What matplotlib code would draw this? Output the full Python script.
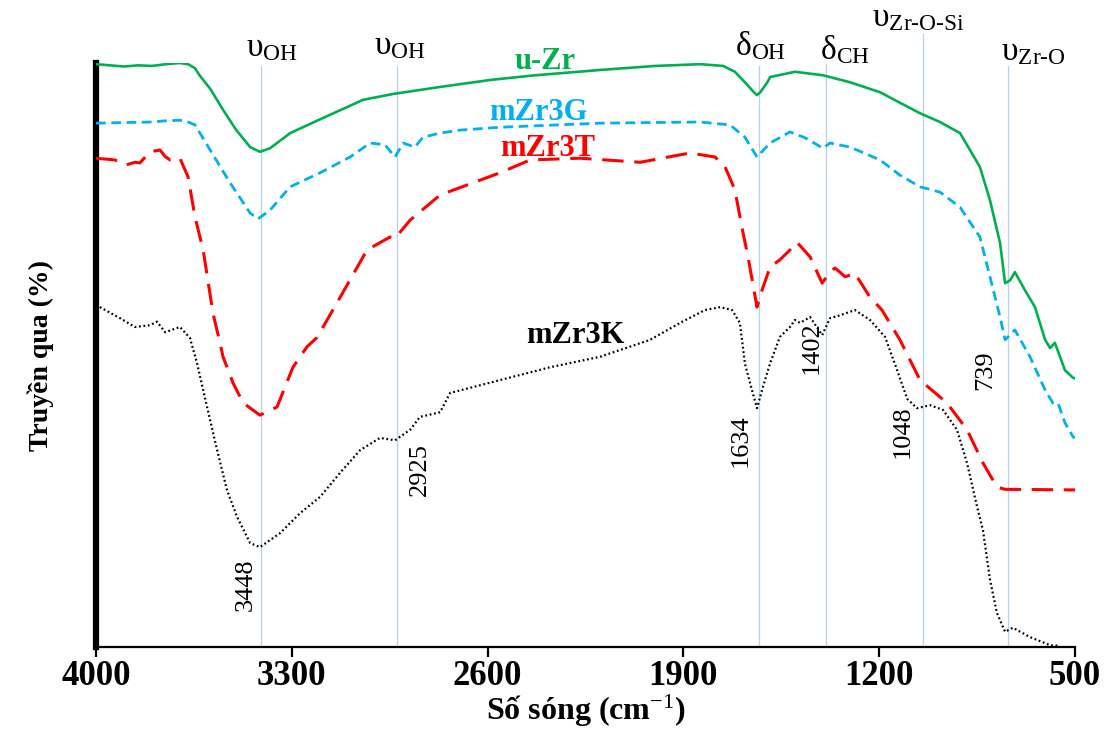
import matplotlib
matplotlib.use("Agg")
import matplotlib.pyplot as plt

plt.rcParams['font.family'] = ['Liberation Serif', 'DejaVu Serif']
plt.rcParams['mathtext.fontset'] = 'custom'
plt.rcParams['mathtext.rm'] = 'Liberation Serif'
plt.rcParams['mathtext.it'] = 'Liberation Serif:italic'
plt.rcParams['mathtext.bf'] = 'Liberation Serif:bold'

# spectra (wavenumber cm-1, transmittance a.u.)
uzr_wn = [4000, 3950, 3900, 3850, 3800, 3750, 3700, 3671, 3646, 3630, 3592, 3546, 3500, 3449, 3414,
          3378, 3306, 3188, 3045, 2938, 2770, 2590, 2430, 2200, 2000, 1840, 1758, 1716, 1680, 1648,
          1637, 1625, 1600, 1590, 1501, 1401, 1304, 1197, 1126, 1054, 983, 911, 840, 804, 768, 750,
          732, 715, 679, 643, 607, 589, 572, 536, 507, 500]
uzr_t = [99.8, 99.6, 99.4, 99.6, 99.5, 99.8, 100.0, 99.8, 99.1, 97.9, 95.6, 92.0, 88.6, 85.6, 84.8,
         85.4, 88.0, 90.6, 93.7, 94.7, 95.9, 97.1, 97.9, 98.8, 99.5, 99.8, 99.5, 98.5, 96.7, 95.0,
         94.5, 95.0, 96.7, 97.6, 98.5, 97.9, 96.7, 95.0, 93.2, 91.4, 89.9, 88.0, 82.2, 76.5, 69.2, 62.3,
         62.8, 64.2, 61.1, 58.2, 52.6, 51.2, 52.1, 47.4, 46.1, 46.0]

g_wn = [4000, 3900, 3800, 3750, 3700, 3671, 3646, 3592, 3521, 3449, 3421, 3378, 3306, 3199, 3092,
        3020, 2967, 2931, 2902, 2860, 2831, 2770, 2700, 2556, 2198, 1840, 1733, 1698, 1680, 1637,
        1590, 1519, 1465, 1401, 1376, 1304, 1197, 1126, 1054, 983, 911, 840, 804, 768, 750, 715,
        661, 607, 579, 561, 536, 507, 500]
g_t = [89.7, 89.8, 89.9, 90.1, 90.2, 89.9, 89.4, 85.1, 79.5, 74.3, 73.3, 74.8, 78.8, 81.2, 83.9,
       86.3, 86.0, 83.9, 86.3, 85.6, 87.3, 88.0, 88.5, 89.0, 89.7, 89.9, 89.4, 88.0, 87.3, 83.9,
       86.3, 88.2, 87.2, 85.4, 86.3, 85.6, 83.4, 80.8, 78.8, 77.9, 75.3, 70.2, 63.4, 56.5, 52.6, 54.3,
       49.7, 44.0, 41.8, 41.8, 38.4, 36.0, 35.8]

t_wn = [4000, 3932, 3896, 3861, 3843, 3807, 3771, 3753, 3735, 3700, 3671, 3646, 3617, 3582, 3557,
        3546, 3510, 3474, 3414, 3353, 3296, 3246, 3210, 3133, 3031, 2949, 2931, 2877, 2770, 2556,
        2448, 2270, 2055, 1876, 1787, 1751, 1716, 1691, 1669, 1637, 1619, 1590, 1555, 1519, 1494,
        1447, 1404, 1376, 1358, 1322, 1287, 1233, 1190, 1126, 1054, 958, 886, 829, 779, 750, 500]
t_t = [83.7, 83.4, 82.5, 83.0, 82.9, 84.8, 85.1, 84.0, 83.4, 83.7, 80.5, 73.6, 68.0, 57.2, 52.1,
       49.7, 45.2, 41.8, 39.7, 41.1, 47.9, 51.4, 53.0, 59.4, 68.0, 70.2, 70.0, 73.1, 77.4, 81.2,
       83.4, 83.7, 83.0, 84.6, 83.9, 82.2, 78.3, 71.9, 66.8, 58.2, 61.1, 65.1, 66.3, 68.0, 69.3,
       66.8, 62.3, 64.2, 64.9, 63.4, 64.0, 59.9, 57.7, 52.6, 45.7, 41.8, 37.2, 31.5, 27.4, 27.0, 26.9]

k_wn = [4000, 3986, 3914, 3861, 3807, 3782, 3753, 3700, 3664, 3639, 3603, 3567, 3532, 3496, 3449,
        3414, 3342, 3271, 3199, 3128, 3056, 2985, 2931, 2877, 2842, 2770, 2734, 2556, 2377, 2198,
        2019, 1912, 1823, 1769, 1726, 1698, 1680, 1655, 1637, 1619, 1590, 1555, 1519, 1501, 1483,
        1447, 1404, 1376, 1340, 1287, 1233, 1179, 1136, 1100, 1065, 1018, 972, 922, 886, 850, 829,
        804, 779, 750, 722, 661, 589, 554]
k_t = [58.6, 58.2, 56.3, 54.8, 55.1, 55.7, 53.9, 54.8, 52.9, 48.6, 41.1, 33.7, 26.9, 22.3, 17.8,
       17.1, 19.5, 22.9, 25.7, 29.8, 33.7, 35.8, 35.4, 37.2, 39.4, 40.2, 43.5, 45.7, 47.9, 49.7,
       52.6, 55.5, 57.7, 58.2, 57.7, 55.5, 48.5, 44.0, 40.9, 44.0, 48.6, 53.1, 54.8, 56.0, 55.5,
       56.5, 53.4, 56.3, 56.8, 57.7, 56.0, 53.1, 47.4, 42.5, 40.9, 41.4, 40.6, 37.2, 31.5, 24.0, 20.0,
       11.5, 5.8, 2.6, 3.3, 1.7, 0.3, 0.2]

# band markers
band_wn = [3410, 2925, 1630, 1390, 1045, 738]
band_top = [99.7, 99.7, 99.7, 100.0, 105.1, 99.7]
band_names = [r'υ$_{\mathrm{OH}}$', r'υ$_{\mathrm{OH}}$', r'δ$_{\mathrm{OH}}$', r'δ$_{\mathrm{CH}}$',
              r'υ$_{\mathrm{Zr\text{-}O\text{-}Si}}$', r'υ$_{\mathrm{Zr\text{-}O}}$']
name_pos = [(3371, 102.6), (2913, 102.9), (1626, 103.0), (1322, 102.2), (1061, 107.7), (650, 101.9)]
peak_labels = ['3448', '2925', '1634', '1402', '1048', '739']
peak_pos = [(3464, 10.6), (2842, 30.3), (1694, 35.4), (1440, 51.2), (1115, 36.8), (822, 47.4)]

fig = plt.figure(figsize=(11.14, 7.31), dpi=100)
ax = fig.add_axes([0.0862, 0.1149, 0.8788, 0.7989])

ax.vlines(band_wn, 0, band_top, colors='#8db6e6', linewidth=0.9, linestyles=(0, (1, 0.6)),
          clip_on=False, zorder=1)

ax.plot(uzr_wn, uzr_t, color='#00b050', lw=1.9, zorder=3)
ax.plot(g_wn, g_t, color='#00b0f0', lw=2.0, ls=(0, (3.5, 2)), zorder=3)
ax.plot(t_wn, t_t, color='#ff0000', lw=2.2, ls=(0, (7, 3.5)), zorder=3)
ax.plot(k_wn, k_t, color='black', lw=1.6, ls=(0, (0.8, 1.2)), zorder=3)

ax.text(2395, 100.2, 'u-Zr', color='#00b050', fontsize=22, fontweight='bold', ha='center', va='center')
ax.text(2420, 91.6, 'mZr3G', color='#00b0f0', fontsize=22, fontweight='bold', ha='center', va='center')
ax.text(2384, 85.4, 'mZr3T', color='#ff0000', fontsize=22, fontweight='bold', ha='center', va='center')
ax.text(2288, 53.4, 'mZr3K', color='black', fontsize=22, fontweight='bold', ha='center', va='center')

for name, (x, y) in zip(band_names, name_pos):
    ax.text(x, y, name, fontsize=24, ha='center', va='center', clip_on=False)
for lab, (x, y) in zip(peak_labels, peak_pos):
    ax.text(x, y, lab, fontsize=19, rotation=90, ha='center', va='center')

ax.set_xlim(4000, 500)
ax.set_ylim(0, 100)
ax.set_xticks([4000, 3300, 2600, 1900, 1200, 500])
ax.set_yticks([])
ax.tick_params(axis='x', direction='out', length=7, width=1.6, labelsize=25, pad=2)
for t in ax.get_xticklabels():
    t.set_fontweight('bold')
ax.spines['top'].set_visible(False)
ax.spines['right'].set_visible(False)
ax.spines['left'].set_linewidth(4.5)
ax.spines['bottom'].set_linewidth(1.6)

ax.set_xlabel('Số sóng (cm$^{-1}$)', fontsize=23, fontweight='bold', labelpad=0)
ax.set_ylabel('Truyền qua (%)', fontsize=20, fontweight='bold', labelpad=30)

fig.savefig('out.png', dpi=100)
